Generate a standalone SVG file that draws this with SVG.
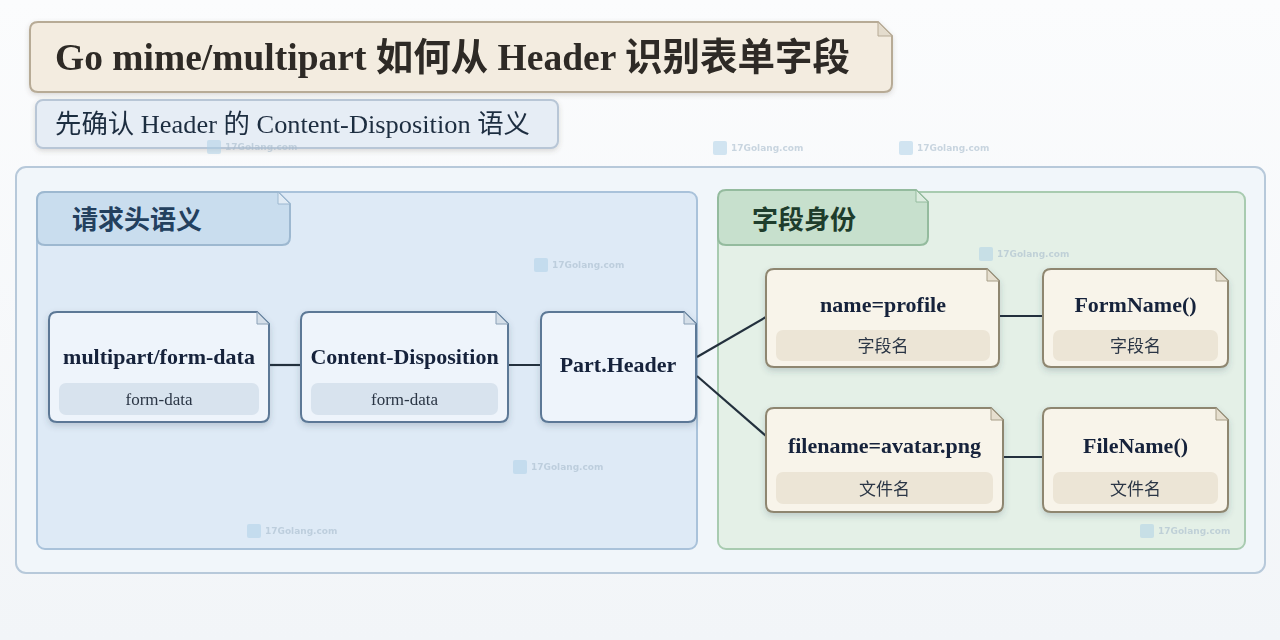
<svg xmlns="http://www.w3.org/2000/svg" width="1280" height="640" viewBox="0 0 1280 640">
<defs>
<filter id="sh" x="-10%" y="-10%" width="120%" height="130%"><feDropShadow dx="0" dy="3" stdDeviation="3" flood-color="#3a4a5c" flood-opacity="0.22"/></filter>
<filter id="sh2" x="-5%" y="-10%" width="110%" height="130%"><feDropShadow dx="0" dy="2" stdDeviation="2.5" flood-color="#5a5040" flood-opacity="0.2"/></filter>
<linearGradient id="bg" x1="0" y1="0" x2="0" y2="1"><stop offset="0" stop-color="#fbfcfd"/><stop offset="1" stop-color="#f2f5f8"/></linearGradient>
</defs>
<style>
.serif{font-family:"Liberation Serif","Noto Sans CJK SC",serif}
.t{font-weight:bold;font-size:22px;fill:#14213a;text-anchor:middle}
.s{font-size:17px;fill:#2b3645;text-anchor:middle}
.bn{fill:#eef4fb;stroke:#5b7896;stroke-width:2}
.bs{fill:#d8e3ee}
.gn{fill:#f8f4ea;stroke:#8e8670;stroke-width:2}
.gs{fill:#ece5d6}
.fold{fill:#d5dfe9;stroke:#8aa0b6;stroke-width:1}
.gfold{fill:#e6dfcf;stroke:#a79e88;stroke-width:1}
.conn{stroke:#23303d;stroke-width:2.2;fill:none}
.wm{font-family:"DejaVu Sans",sans-serif;font-size:9px;font-weight:bold;fill:#a8bccd;opacity:0.6}
.wi{fill:#a9cde6;opacity:0.5}
</style>
<rect width="1280" height="640" fill="url(#bg)"/>

<g id="title" filter="url(#sh2)">
<path d="M30 30 Q30 22 38 22 L878 22 L892 36 L892 84 Q892 92 884 92 L38 92 Q30 92 30 84 Z" fill="#f3ece0" stroke="#b7ab96" stroke-width="2"/>
<path d="M878 22 L878 36 L892 36 Z" fill="#e4dccd" stroke="#b7ab96" stroke-width="1"/>
<text x="55" y="70" class="serif" font-size="38" font-weight="bold" fill="#2d2a25" textLength="795" lengthAdjust="spacingAndGlyphs">Go mime/multipart 如何从 Header 识别表单字段</text>
</g>

<g id="subtitle" filter="url(#sh2)">
<rect x="36" y="100" width="522" height="48" rx="7" fill="#e6edf5" stroke="#b8c6d6" stroke-width="2"/>
<text x="55" y="133" class="serif" font-size="26" fill="#1f2d40" textLength="475" lengthAdjust="spacingAndGlyphs">先确认 Header 的 Content-Disposition 语义</text>
</g>

<g id="container">
<rect x="16" y="167" width="1249" height="406" rx="10" fill="#f1f6fa" stroke="#b7c9da" stroke-width="2"/>
</g>

<g id="panel-left">
<rect x="37" y="192" width="660" height="357" rx="8" fill="#deeaf6" stroke="#a9c2da" stroke-width="2"/>
<path d="M45 192 L278 192 L290 204 L290 237 Q290 245 282 245 L45 245 Q37 245 37 237 L37 200 Q37 192 45 192 Z" fill="#c9ddee" stroke="#9db8d0" stroke-width="2"/>
<path d="M278 192 L278 204 L290 204 Z" fill="#e2ecf5" stroke="#9db8d0" stroke-width="1"/>
<text x="72" y="229" class="serif" font-size="26" font-weight="bold" fill="#23405e">请求头语义</text>
</g>

<g id="panel-right">
<rect x="718" y="192" width="527" height="357" rx="8" fill="#e4f0e7" stroke="#a8cbb0" stroke-width="2"/>
<path d="M726 190 L916 190 L928 202 L928 237 Q928 245 920 245 L726 245 Q718 245 718 237 L718 198 Q718 190 726 190 Z" fill="#c7e0cd" stroke="#94bb9e" stroke-width="2"/>
<path d="M916 190 L916 202 L928 202 Z" fill="#dcecdf" stroke="#94bb9e" stroke-width="1"/>
<text x="752" y="229" class="serif" font-size="26" font-weight="bold" fill="#1e3d2c">字段身份</text>
</g>

<g id="watermarks">
<rect x="207" y="140" width="14" height="14" rx="2" class="wi"/><text x="225" y="150" class="wm">17Golang.com</text>
<rect x="713" y="141" width="14" height="14" rx="2" class="wi"/><text x="731" y="151" class="wm">17Golang.com</text>
<rect x="899" y="141" width="14" height="14" rx="2" class="wi"/><text x="917" y="151" class="wm">17Golang.com</text>
<rect x="534" y="258" width="14" height="14" rx="2" class="wi"/><text x="552" y="268" class="wm">17Golang.com</text>
<rect x="979" y="247" width="14" height="14" rx="2" class="wi"/><text x="997" y="257" class="wm">17Golang.com</text>
<rect x="513" y="460" width="14" height="14" rx="2" class="wi"/><text x="531" y="470" class="wm">17Golang.com</text>
<rect x="247" y="524" width="14" height="14" rx="2" class="wi"/><text x="265" y="534" class="wm">17Golang.com</text>
<rect x="1140" y="524" width="14" height="14" rx="2" class="wi"/><text x="1158" y="534" class="wm">17Golang.com</text>
</g>

<g id="connectors">
<line x1="269" y1="365" x2="301" y2="365" class="conn"/>
<line x1="508" y1="365" x2="541" y2="365" class="conn"/>
<line x1="697" y1="357" x2="766" y2="317" class="conn"/>
<line x1="697" y1="376" x2="766" y2="436" class="conn"/>
<line x1="999" y1="316" x2="1043" y2="316" class="conn"/>
<line x1="1003" y1="457" x2="1043" y2="457" class="conn"/>
</g>

<g id="node-multipart" filter="url(#sh)">
<path d="M57 312 L257 312 L269 324 L269 414 Q269 422 261 422 L57 422 Q49 422 49 414 L49 320 Q49 312 57 312 Z" class="bn"/>
<path d="M257 312 L257 324 L269 324 Z" class="fold"/>
<text x="159" y="364" class="serif t">multipart/form-data</text>
<rect x="59" y="383" width="200" height="32" rx="7" class="bs"/>
<text x="159" y="405" class="serif s">form-data</text>
</g>

<g id="node-cd" filter="url(#sh)">
<path d="M309 312 L496 312 L508 324 L508 414 Q508 422 500 422 L309 422 Q301 422 301 414 L301 320 Q301 312 309 312 Z" class="bn"/>
<path d="M496 312 L496 324 L508 324 Z" class="fold"/>
<text x="404.5" y="364" class="serif t">Content-Disposition</text>
<rect x="311" y="383" width="187" height="32" rx="7" class="bs"/>
<text x="404.5" y="405" class="serif s">form-data</text>
</g>

<g id="node-partheader" filter="url(#sh)">
<path d="M549 312 L684 312 L696 324 L696 414 Q696 422 688 422 L549 422 Q541 422 541 414 L541 320 Q541 312 549 312 Z" class="bn"/>
<path d="M684 312 L684 324 L696 324 Z" class="fold"/>
<text x="618" y="372" class="serif t">Part.Header</text>
</g>

<g id="node-name" filter="url(#sh)">
<path d="M774 269 L987 269 L999 281 L999 359 Q999 367 991 367 L774 367 Q766 367 766 359 L766 277 Q766 269 774 269 Z" class="gn"/>
<path d="M987 269 L987 281 L999 281 Z" class="gfold"/>
<text x="883" y="312" class="serif t">name=profile</text>
<rect x="776" y="330" width="214" height="31" rx="7" class="gs"/>
<text x="883" y="352" class="serif s">字段名</text>
</g>

<g id="node-formname" filter="url(#sh)">
<path d="M1051 269 L1216 269 L1228 281 L1228 359 Q1228 367 1220 367 L1051 367 Q1043 367 1043 359 L1043 277 Q1043 269 1051 269 Z" class="gn"/>
<path d="M1216 269 L1216 281 L1228 281 Z" class="gfold"/>
<text x="1135.5" y="312" class="serif t">FormName()</text>
<rect x="1053" y="330" width="165" height="31" rx="7" class="gs"/>
<text x="1135.5" y="352" class="serif s">字段名</text>
</g>

<g id="node-filename" filter="url(#sh)">
<path d="M774 408 L991 408 L1003 420 L1003 504 Q1003 512 995 512 L774 512 Q766 512 766 504 L766 416 Q766 408 774 408 Z" class="gn"/>
<path d="M991 408 L991 420 L1003 420 Z" class="gfold"/>
<text x="884.5" y="453" class="serif t">filename=avatar.png</text>
<rect x="776" y="472" width="217" height="32" rx="7" class="gs"/>
<text x="884.5" y="495" class="serif s">文件名</text>
</g>

<g id="node-filenamefn" filter="url(#sh)">
<path d="M1051 408 L1216 408 L1228 420 L1228 504 Q1228 512 1220 512 L1051 512 Q1043 512 1043 504 L1043 416 Q1043 408 1051 408 Z" class="gn"/>
<path d="M1216 408 L1216 420 L1228 420 Z" class="gfold"/>
<text x="1135.5" y="453" class="serif t">FileName()</text>
<rect x="1053" y="472" width="165" height="32" rx="7" class="gs"/>
<text x="1135.5" y="495" class="serif s">文件名</text>
</g>
</svg>
